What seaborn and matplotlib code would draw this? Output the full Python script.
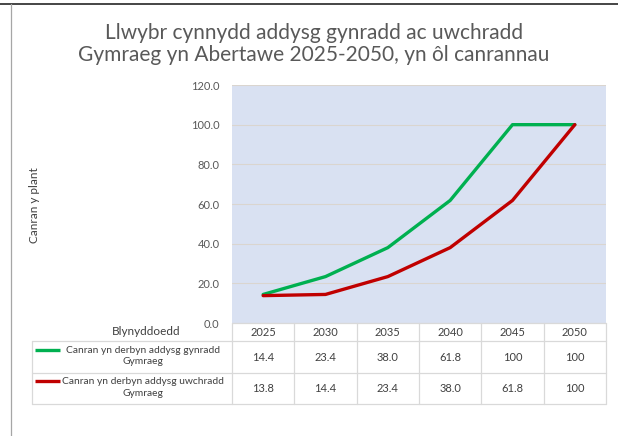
import matplotlib.pyplot as plt
import matplotlib.lines as mlines
import pandas as pd
import seaborn as sns

years = ["2025", "2030", "2035", "2040", "2045", "2050"]
primary = [14.4, 23.4, 38.0, 61.8, 100, 100]
secondary = [13.8, 14.4, 23.4, 38.0, 61.8, 100]
series_names = ["Canran yn derbyn addysg gynradd\nGymraeg",
                "Canran yn derbyn addysg uwchradd\nGymraeg"]
series_colors = ["#00B050", "#C00000"]
title = "Llwybr cynnydd addysg gynradd ac uwchradd\nGymraeg yn Abertawe 2025-2050, yn ôl canrannau"
ylabel = "Canran y plant"
table_header = "Blynyddoedd"

sns.set_theme(style="white")
plt.rcParams['font.family'] = ['Lato', 'DejaVu Sans']
grey_txt = "#595959"
cell_line = "#D9D9D9"

W, H = 618, 436
fig = plt.figure(figsize=(W/100, H/100), dpi=100)
fig.set_facecolor('w')

#### main plot area
ax = fig.add_axes([232/W, 1-323/H, 374/W, 238/H])
df = pd.DataFrame({"year": years*2,
                   "value": primary + secondary,
                   "series": [series_names[0]]*len(years) + [series_names[1]]*len(years)})
sns.lineplot(data=df, x="year", y="value", hue="series", sort=False,
             palette=dict(zip(series_names, series_colors)),
             linewidth=2.4, legend=False, ax=ax)
ax.set_facecolor("#D9E1F2")
ax.set_xlim(-0.5, len(years)-0.5)
ax.set_ylim(0, 120)
ax.set_yticks(range(0, 121, 20))
ax.set_yticklabels([f"{t:.1f}" for t in range(0, 121, 20)])
ax.set_xticks([])
ax.set_xlabel("")
ax.set_ylabel("")
ax.tick_params(axis='y', length=0, labelsize=8, colors=grey_txt, pad=9)
ax.yaxis.grid(True, color="#DAD5CF", linewidth=0.8)
ax.set_axisbelow(True)
for s in ax.spines.values():
    s.set_visible(False)

#### data table under the plot
tax = fig.add_axes([232/W, 1-404/H, 374/W, 81/H])
tax.set_xlim(-0.5, len(years)-0.5)
tax.set_ylim(81, 0)
tax.axis('off')
col_px = 374/len(years)
left = -0.5 - 200/col_px
row_edges = [0, 18, 50, 81]
# horizontal lines
tax.plot([-0.5, len(years)-0.5], [0, 0], color=cell_line, lw=0.9, clip_on=False)
for y in row_edges[1:]:
    tax.plot([left, len(years)-0.5], [y, y], color=cell_line, lw=0.9, clip_on=False)
# vertical lines
for i in range(len(years)+1):
    tax.plot([i-0.5, i-0.5], [0, 81], color=cell_line, lw=0.9, clip_on=False)
tax.plot([left, left], [18, 81], color=cell_line, lw=0.9, clip_on=False)

tax.text(-0.5 - 86/col_px, 8, table_header, ha='center', va='center',
         fontsize=8.5, color="#404040", clip_on=False)
for i, yr in enumerate(years):
    tax.text(i, 9, yr, ha='center', va='center', fontsize=8, color="#404040")

def fmt(v):
    return f"{v:.0f}" if v >= 100 else f"{v:.1f}"

for r, (vals, name, c) in enumerate(zip([primary, secondary], series_names, series_colors)):
    yc = (row_edges[r+1] + row_edges[r+2]) / 2
    for i, v in enumerate(vals):
        tax.text(i, yc, fmt(v), ha='center', va='center', fontsize=8, color="#404040")
    tax.text(-0.5 - 89/col_px, yc - 1, name, ha='center', va='center',
             multialignment='center', fontsize=7.4, color="#404040",
             linespacing=1.4, clip_on=False)
    tax.plot([left + 3/col_px, left + 28/col_px], [yc - 7.5, yc - 7.5],
             color=c, lw=2.4, clip_on=False, solid_capstyle='butt')

#### labels, title, frame
fig.text(35/W, 1-205/H, ylabel, rotation=90, ha='center', va='center',
         fontsize=8.5, color="#404040")
fig.text(314/W, 1-44/H, title, ha='center', va='center', fontsize=15,
         color=grey_txt, linespacing=1.1)
fig.add_artist(mlines.Line2D([0, 1], [1-4/H, 1-4/H], color="#262626", lw=1.2))
fig.add_artist(mlines.Line2D([11/W, 11/W], [0, 1-4/H], color="#A6A6A6", lw=0.9))

plt.savefig("out.png", dpi=100)
